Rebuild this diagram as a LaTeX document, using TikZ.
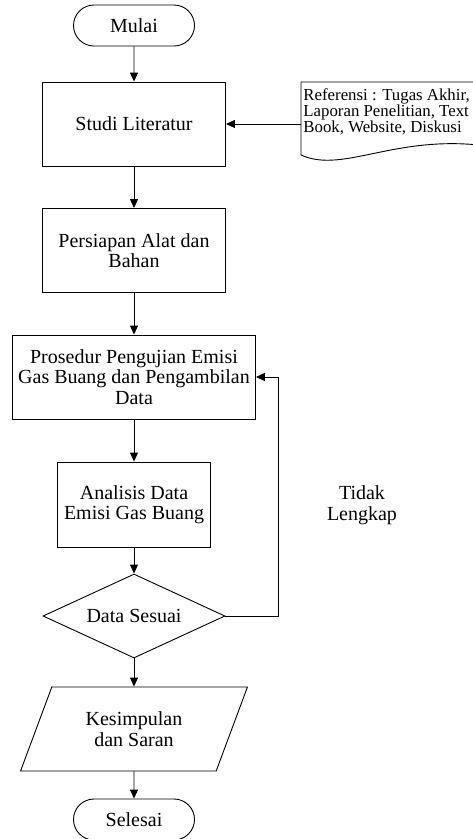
\documentclass[tikz,border=0pt]{standalone}
\usepackage{fontspec}
\setmainfont{Liberation Serif}
\usetikzlibrary{shapes.geometric,shapes.misc,positioning,arrows.meta}

\begin{document}
\begin{tikzpicture}[x=1pt,y=-1pt,>={Triangle[length=9pt,width=8pt]},line width=0.9pt,
	every node/.style={font=\fontsize{20}{20.5}\selectfont},
	term/.style={rounded rectangle,draw,minimum width=121pt,minimum height=41pt,inner sep=0pt},
	proc/.style={rectangle,draw,minimum width=183pt,minimum height=84pt,align=center},
	decide/.style={diamond,draw,aspect=2.17,minimum width=182pt,minimum height=84pt,inner sep=0pt},
	io/.style={trapezium,draw,trapezium left angle=62,trapezium right angle=118,trapezium stretches=true,minimum width=227pt,minimum height=84pt,inner sep=0pt,align=center},
	note/.style={font=\fontsize{16.8}{16}\selectfont,align=left,inner xsep=2pt,inner ysep=6pt}]
	\useasboundingbox (0,0) rectangle (472,839);
	% main flow
	\node[term] (mulai) at (134,25.5) {Mulai};
	\node[proc] (studi) at (134,124) {Studi Literatur};
	\node[proc] (alat) at (134,250.5) {Persiapan Alat dan\\Bahan};
	\node[proc,minimum width=243pt] (uji) at (134,377) {Prosedur Pengujian Emisi\\Gas Buang dan Pengambilan\\Data};
	\node[proc,minimum width=153pt,minimum height=85pt] (analisis) at (134,504.5) {Analisis Data\\Emisi Gas Buang};
	\node[decide] (sesuai) at (134,616) {Data Sesuai};
	\node[io] (simpul) at (134,729) {Kesimpulan\\dan Saran};
	\node[term] (selesai) at (134,819.5) {Selesai};
	% referensi
	\node[note,anchor=north west] (ref) at (301,82) {Referensi : Tugas Akhir,\\Laporan Penelitian, Text\\Book, Website, Diskusi};
	\draw (ref.north west) -- (500,82) -- (500,148)
		.. controls (400,130) and (345,175) .. (301,155) -- cycle;
	\node[align=center] (tidak) at (362,505) {Tidak\\Lengkap};
	% arrows
	\draw[->] (mulai) -- (studi);
	\draw[->] (ref.west |- studi) -- (studi);
	\draw[->] (studi) -- (alat);
	\draw[->] (alat) -- (uji);
	\draw[->] (uji) -- (analisis);
	\draw[->] (analisis) -- (sesuai);
	\draw[->] (sesuai) -- (simpul);
	\draw[->] (simpul) -- (selesai);
	\draw[->] (sesuai.east) -- ++(53,0) |- (uji.east);
\end{tikzpicture}
\end{document}
